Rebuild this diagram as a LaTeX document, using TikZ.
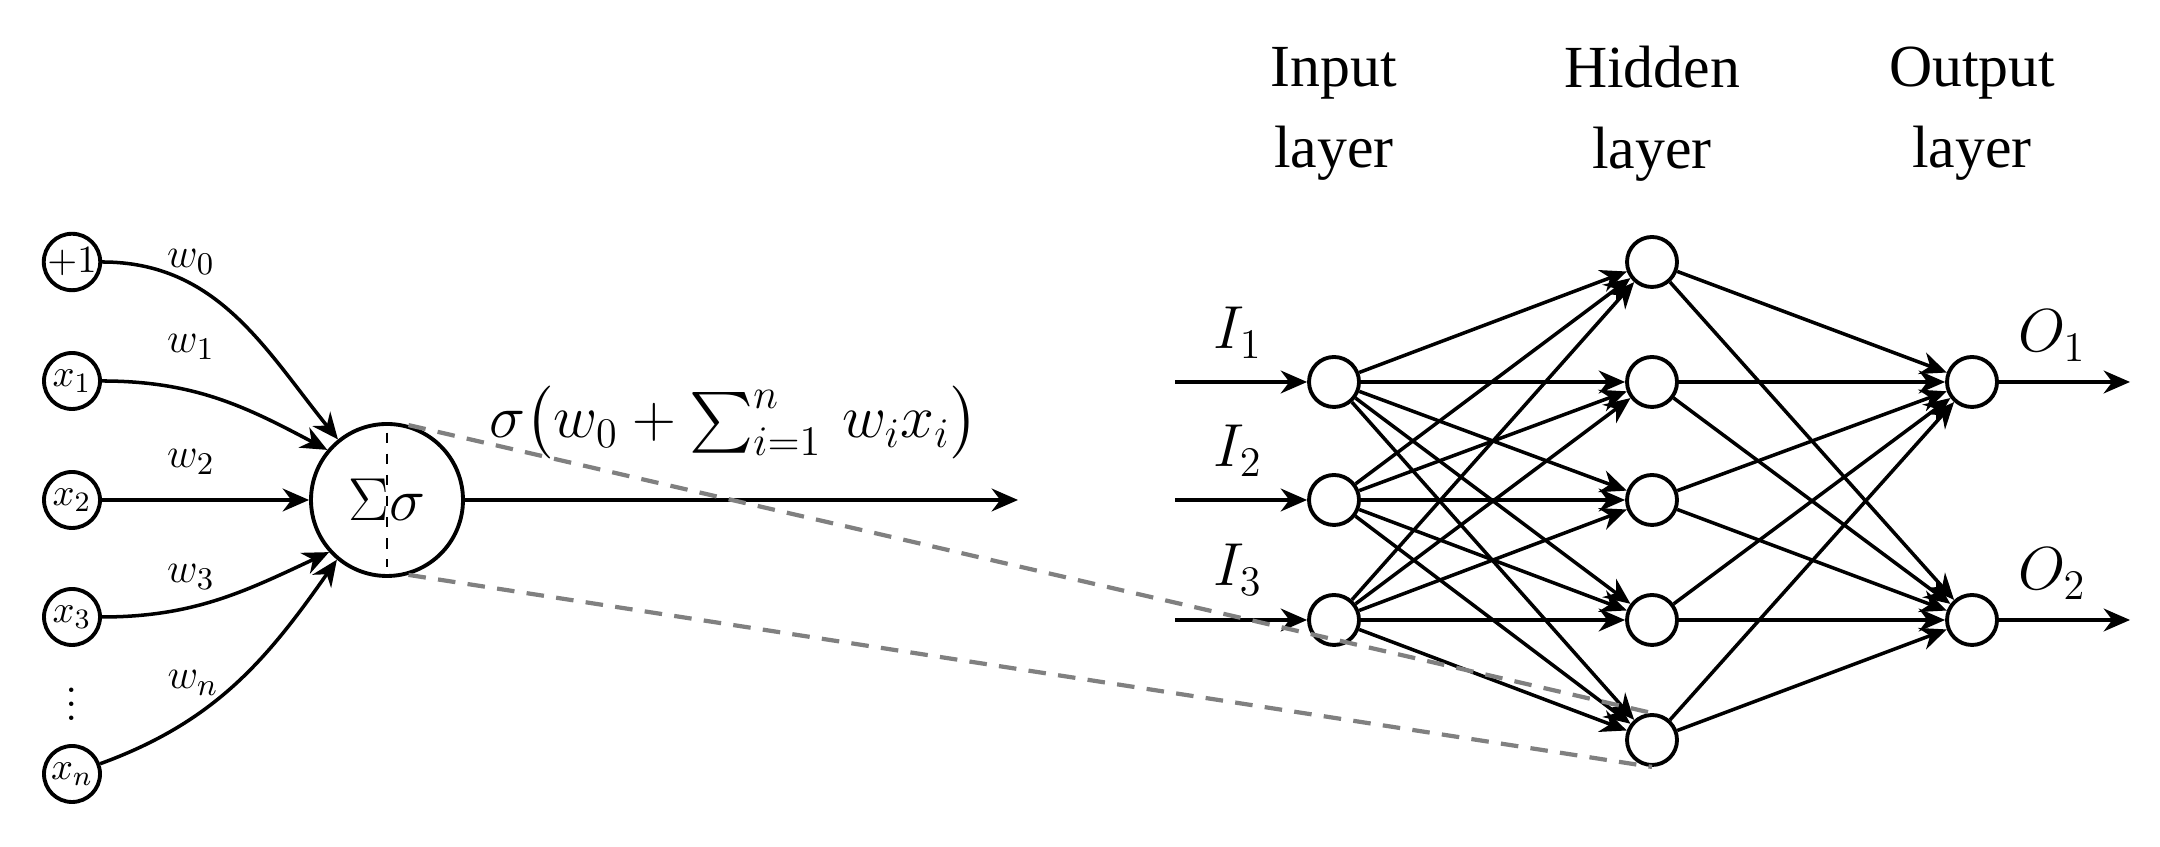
\documentclass[tikz,border=0pt]{standalone}
\usepackage{fontspec}
\usepackage{amsmath}
\newfontfamily\layerfont{Liberation Serif}
\usetikzlibrary{arrows.meta}

\begin{document}
\begin{tikzpicture}[
    >={Stealth[length=7.5pt,width=6.5pt]},
    neuron/.style={circle, draw, line width=1.1pt, fill=white, minimum size=0.56cm, inner sep=0pt, font=\fontsize{11}{13}\selectfont},
    unit/.style={circle, draw, line width=1.1pt, fill=white, minimum size=0.5cm, inner sep=0pt},
    link/.style={->, line width=1pt},
    wlabel/.style={anchor=base, font=\fontsize{13}{15}\selectfont},
    iolabel/.style={anchor=base, font=\fontsize{16.5}{19}\selectfont},
    title/.style={align=center, font=\layerfont\fontsize{17}{23}\selectfont},
    zoomline/.style={gray, line width=1.2pt, dash pattern=on 5pt off 3.5pt}
  ]
  \useasboundingbox (0,0) rectangle (21.6,8.47);

  % single neuron
  \node[neuron] (x0) at (0.72,5.85) {$+1$};
  \node[neuron] (x1) at (0.72,4.66) {$x_1$};
  \node[neuron] (x2) at (0.72,3.47) {$x_2$};
  \node[neuron] (x3) at (0.72,2.30) {$x_3$};
  \node[font=\fontsize{13}{15}\selectfont] (dots) at (0.72,1.53) {$\vdots$};
  \node[neuron] (xn) at (0.72,0.73) {$x_n$};

  \node[circle, draw, line width=1.1pt, minimum size=1.52cm, inner sep=0pt,
        font=\fontsize{16}{18}\selectfont] (sig) at (3.87,3.47) {$\Sigma\sigma$};
  \draw[dashed, line width=0.6pt, shorten <=3pt, shorten >=3pt] (sig.north) -- (sig.south);

  \draw[link] (x0) to[out=0, in=129] (sig.129);
  \draw[link] (x1) to[out=0, in=152] (sig.140);
  \draw[link] (x2) -- (sig);
  \draw[link] (x3) to[out=0, in=205] (sig.222);
  \draw[link] (xn) to[out=20, in=235] (sig.230);

  \node[wlabel] (w0) at (1.91,5.79) {$w_0$};
  \node[wlabel] (w1) at (1.91,4.94) {$w_1$};
  \node[wlabel] (w2) at (1.91,3.79) {$w_2$};
  \node[wlabel] (w3) at (1.91,2.64) {$w_3$};
  \node[wlabel] (wn) at (1.93,1.58) {$w_n$};

  \coordinate (y) at (10.18,3.47);
  \draw[link] (sig) -- (y);
  \node[anchor=base, font=\fontsize{17.5}{20}\selectfont] (act) at (7.34,4.09)
    {$\sigma\bigl(w_0+\sum_{i=1}^{n}\, w_i x_i\bigr)$};

  % network
  \node[title] (tin) at (13.34,7.33) {Input\\layer};
  \node[title] (thid) at (16.52,7.33) {Hidden\\layer};
  \node[title] (tout) at (19.72,7.33) {Output\\layer};

  \node[unit] (i1) at (13.34,4.65) {};
  \node[unit] (i2) at (13.34,3.47) {};
  \node[unit] (i3) at (13.34,2.27) {};

  \node[unit] (h1) at (16.52,5.85) {};
  \node[unit] (h2) at (16.52,4.65) {};
  \node[unit] (h3) at (16.52,3.47) {};
  \node[unit] (h4) at (16.52,2.27) {};
  \node[unit] (h5) at (16.52,1.07) {};

  \node[unit] (o1) at (19.72,4.65) {};
  \node[unit] (o2) at (19.72,2.27) {};

  \coordinate (a1) at (11.75,4.65);
  \coordinate (a2) at (11.75,3.47);
  \coordinate (a3) at (11.75,2.27);
  \coordinate (e1) at (21.30,4.65);
  \coordinate (e2) at (21.30,2.27);

  \foreach \i in {1,2,3} {
    \draw[link] (a\i) -- (i\i);
    \foreach \h in {1,...,5}
      \draw[link] (i\i) -- (h\h);
  }
  \foreach \h in {1,...,5}
    \foreach \o in {1,2}
      \draw[link] (h\h) -- (o\o);
  \draw[link] (o1) -- (e1);
  \draw[link] (o2) -- (e2);

  \node[iolabel] (I1) at (12.38,4.98) {$I_1$};
  \node[iolabel] (I2) at (12.38,3.80) {$I_2$};
  \node[iolabel] (I3) at (12.38,2.61) {$I_3$};
  \node[iolabel] (O1) at (20.52,4.95) {$O_1$};
  \node[iolabel] (O2) at (20.52,2.57) {$O_2$};

  \draw[zoomline] (sig.74) -- (h5.north);
  \draw[zoomline] (sig.-74) -- (h5.south);
\end{tikzpicture}
\end{document}
